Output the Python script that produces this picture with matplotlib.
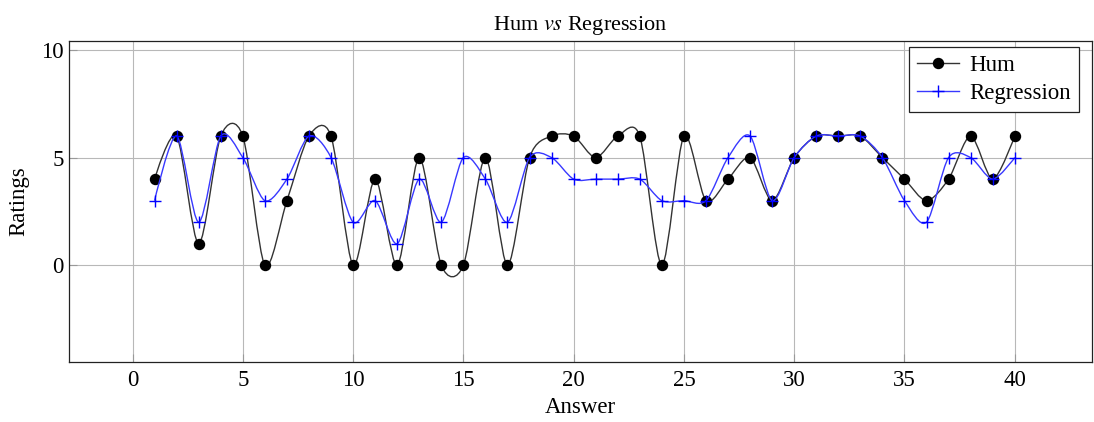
"""Hum vs Regression ratings per answer, drawn as smooth pgfplots-style curves."""
import matplotlib

matplotlib.use("Agg")
import matplotlib.pyplot as plt  # noqa: E402
from matplotlib.lines import Line2D  # noqa: E402
from matplotlib.patches import PathPatch  # noqa: E402
from matplotlib.path import Path  # noqa: E402

answers = list(range(1, 41))
hum = [4, 6, 1, 6, 6, 0, 3, 6, 6, 0, 4, 0, 5, 0, 0, 5, 0, 5, 6, 6,
       5, 6, 6, 0, 6, 3, 4, 5, 3, 5, 6, 6, 6, 5, 4, 3, 4, 6, 4, 6]
regression = [3, 6, 2, 6, 5, 3, 4, 6, 5, 2, 3, 1, 4, 2, 5, 4, 2, 5, 5, 4,
              4, 4, 4, 3, 3, 3, 5, 6, 3, 5, 6, 6, 6, 5, 3, 2, 5, 5, 4, 5]

TENSION = 0.143

plt.rcParams["font.family"] = ["Liberation Serif", "DejaVu Serif"]
plt.rcParams["mathtext.fontset"] = "stix"


def smooth_path(xs, ys, t=TENSION):
    """Bezier path through the points, like pgf's 'smooth' handler."""
    pts = list(zip(xs, ys))
    n = len(pts)
    verts = [pts[0]]
    codes = [Path.MOVETO]
    for i in range(n - 1):
        p0, p1 = pts[i], pts[i + 1]
        if i == 0:
            c1 = p0
        else:
            pm = pts[i - 1]
            c1 = (p0[0] + t * (p1[0] - pm[0]), p0[1] + t * (p1[1] - pm[1]))
        if i + 1 == n - 1:
            c2 = p1
        else:
            pn = pts[i + 2]
            c2 = (p1[0] - t * (pn[0] - p0[0]), p1[1] - t * (pn[1] - p0[1]))
        verts += [c1, c2, p1]
        codes += [Path.CURVE4] * 3
    return Path(verts, codes)


fig = plt.figure(figsize=(10.94, 4.22), dpi=100)
ax = fig.add_axes([0.0631, 0.1429, 0.9350, 0.7607])

ax.add_patch(PathPatch(smooth_path(answers, hum), facecolor="none",
                       edgecolor="#333333", lw=1.0, zorder=3))
ax.plot(answers, hum, ls="none", marker="o", ms=7.2, color="black", zorder=4)
ax.add_patch(PathPatch(smooth_path(answers, regression), facecolor="none",
                       edgecolor="#3838ff", lw=1.0, zorder=5))
ax.plot(answers, regression, ls="none", marker="+", ms=8, mew=1.0,
        color="#0000ff", zorder=6)

ax.set_xlim(-2.88, 43.5)
ax.set_ylim(-4.48, 10.43)
ax.set_xticks(range(0, 41, 5))
ax.set_yticks([0, 5, 10])
ax.grid(True, color="#b8b8b8", lw=0.8)
ax.set_axisbelow(True)
ax.tick_params(direction="in", length=6, color="#999999", labelsize=16.5,
               top=False, right=False, pad=6)
ax.tick_params(axis="y", pad=4)
for s in ax.spines.values():
    s.set_linewidth(0.9)
    s.set_color("#222222")

ax.set_xlabel("Answer", fontsize=16.5, labelpad=4)
ax.set_ylabel("Ratings", fontsize=16.5, labelpad=8)
ax.set_title(r"Hum $\mathit{vs}$ Regression", fontsize=16, pad=8)

handles = [
    Line2D([], [], color="#333333", lw=1.0, marker="o", ms=7.2, mfc="black",
           mec="black"),
    Line2D([], [], color="#3838ff", lw=1.0, marker="+", ms=8, mew=1.0,
           mec="#0000ff"),
]
leg = ax.legend(handles, ["Hum", "Regression"], loc="upper right",
                bbox_to_anchor=(0.987, 0.981), borderaxespad=0,
                fontsize=16.5, fancybox=False, framealpha=1,
                edgecolor="#222222", handlelength=1.8, handletextpad=0.45,
                borderpad=0.35, labelspacing=0.3)
leg.get_frame().set_linewidth(0.9)
leg.set_zorder(10)

fig.savefig("out.png", dpi=100)
